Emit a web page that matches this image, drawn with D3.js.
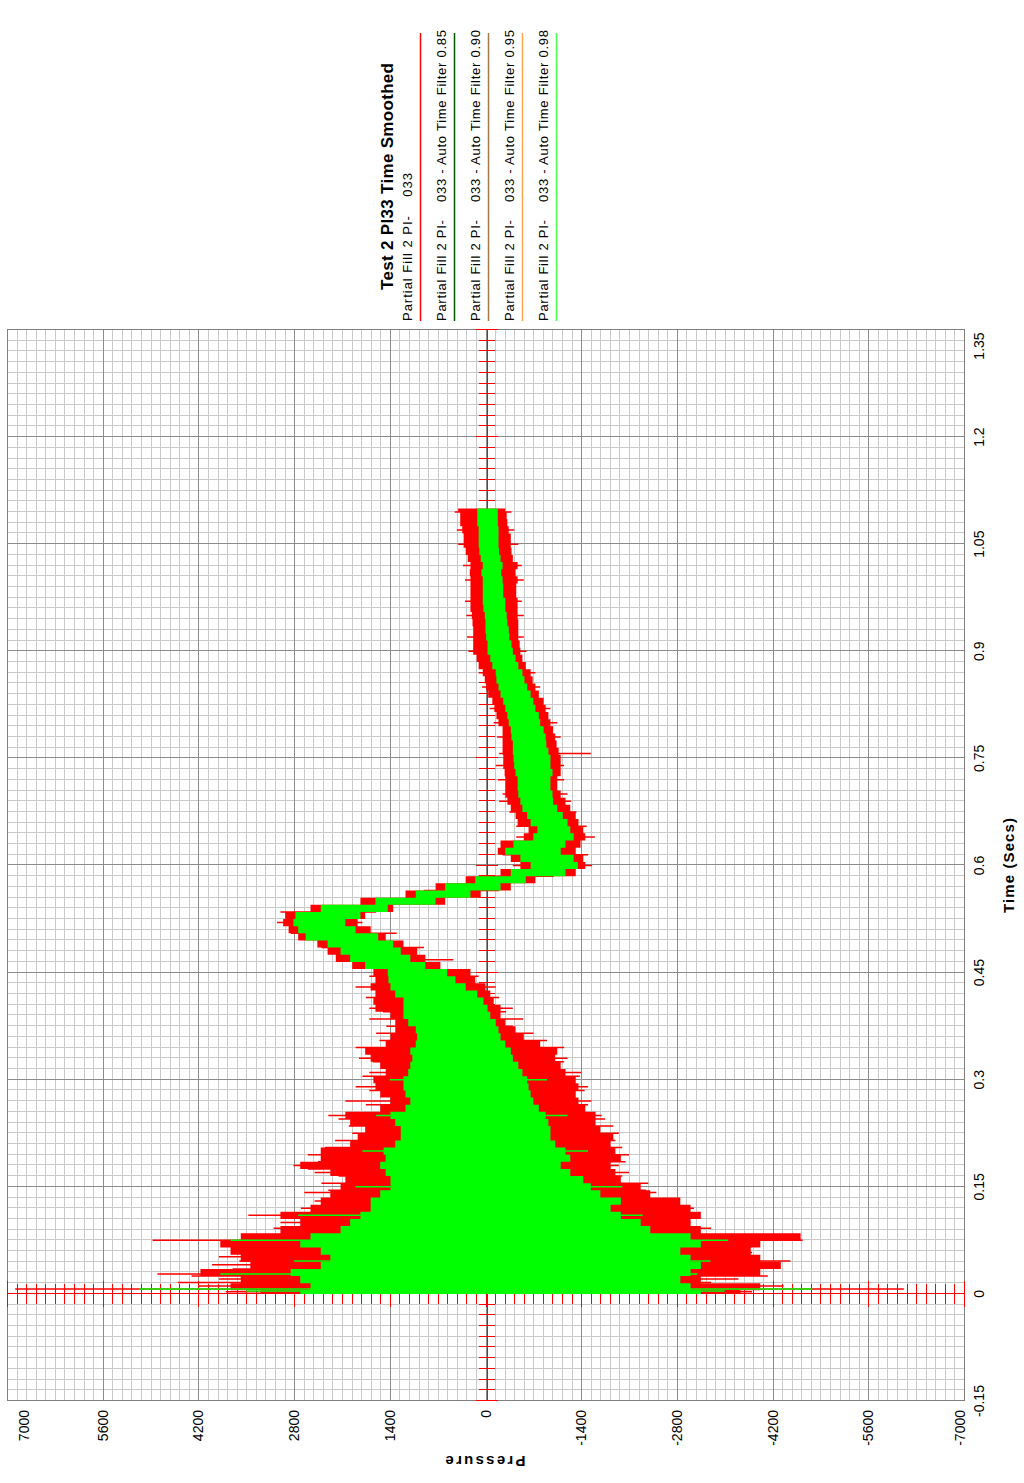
<!DOCTYPE html>
<html>
<head>
<meta charset="utf-8">
<script src="https://cdn.jsdelivr.net/npm/d3@7"></script>
<style>
  body { margin: 0; background: #fff; }
  svg { display: block; }
  text { font-family: "Liberation Sans", Arial, sans-serif; fill: #000; }
</style>
</head>
<body>
<div id="chart"></div>
<script>
// sample times (s)
const time = [0.00,0.01,0.02,0.03,0.04,0.05,0.06,0.07,0.08,0.09,
  0.10,0.11,0.12,0.13,0.14,0.15,0.16,0.17,0.18,0.19,
  0.20,0.21,0.22,0.23,0.24,0.25,0.26,0.27,0.28,0.29,
  0.30,0.31,0.32,0.33,0.34,0.35,0.36,0.37,0.38,0.39,
  0.40,0.41,0.42,0.43,0.44,0.45,0.46,0.47,0.48,0.49,
  0.50,0.51,0.52,0.53,0.54,0.55,0.56,0.57,0.58,0.59,
  0.60,0.61,0.62,0.63,0.64,0.65,0.66,0.67,0.68,0.69,
  0.70,0.71,0.72,0.73,0.74,0.75,0.76,0.77,0.78,0.79,
  0.80,0.81,0.82,0.83,0.84,0.85,0.86,0.87,0.88,0.89,
  0.90,0.91,0.92,0.93,0.94,0.95,0.96,0.97,0.98,0.99,
  1.00,1.01,1.02,1.03,1.04,1.05,1.06,1.07,1.08,1.09,1.10];

// raw signal (red) envelope, upper / lower pressure
const redHi = [3290,3730,3580,4170,3440,3580,3730,3880,3580,3000,
  2710,3000,2560,2410,2270,2120,2050,2270,2710,2410,
  2410,1980,1870,1760,1980,2050,1540,1390,1540,1610,
  1640,1460,1540,1680,1760,1460,1390,1320,1320,1390,
  1610,1640,1610,1680,1610,1640,1950,2190,2310,2460,
  2740,2880,2960,2930,2560,1830,1170,730,290,-220,
  -510,-370,-180,-220,-560,-630,-470,-440,-370,-320,
  -290,-290,-290,-280,-260,-260,-250,-250,-250,-250,
  -190,-160,-130,-100,-40,-10,10,40,100,130,
  180,180,180,180,190,200,220,220,220,220,
  220,230,220,260,290,320,320,340,370,370,400];
const redLo = [-3730,-4020,-3150,-4020,-4320,-4020,-3880,-4020,-4610,-3150,
  -3000,-3150,-3000,-2850,-2410,-2270,-1980,-1900,-1830,-1980,
  -1900,-1830,-1870,-1680,-1610,-1610,-1460,-1360,-1320,-1360,
  -1320,-1170,-1100,-1020,-1050,-800,-560,-440,-290,-220,
  -220,-120,-70,0,150,220,660,880,1000,1200,
  1460,1680,1870,1760,1350,590,70,-370,-730,-1320,
  -1460,-1430,-1320,-1390,-1460,-1430,-1360,-1320,-1240,-1170,
  -1100,-1050,-1050,-1100,-1100,-1100,-1070,-1040,-1020,-990,
  -950,-920,-880,-850,-780,-730,-690,-660,-590,-540,
  -510,-500,-480,-480,-480,-470,-470,-470,-450,-450,
  -470,-440,-470,-400,-380,-370,-370,-340,-320,-310,-290];

// filtered signal (green) envelope
const greenHi = [2710,2560,2710,2850,2410,2270,2410,2710,2560,2120,
  1980,1830,1680,1680,1540,1390,1390,1460,1540,1460,
  1490,1320,1240,1240,1320,1390,1170,1100,1170,1200,
  1200,1130,1100,1070,1100,1020,1000,1020,1130,1200,
  1200,1200,1320,1390,1420,1430,1760,1980,2120,2310,
  2630,2740,2810,2780,2410,1610,1020,590,150,-370,
  -660,-510,-290,-410,-700,-760,-660,-610,-540,-510,
  -480,-470,-470,-440,-420,-410,-400,-400,-380,-370,
  -340,-320,-290,-260,-220,-190,-160,-150,-100,-70,
  -30,-30,-10,0,0,10,30,40,40,40,
  40,60,40,70,90,100,100,100,120,120,120];
const greenLo = [-3150,-3000,-2850,-3000,-3150,-3000,-2850,-3150,-3000,-2410,
  -2270,-1980,-1830,-1980,-1680,-1540,-1430,-1240,-1100,-1240,
  -1170,-1020,-950,-950,-920,-880,-780,-700,-660,-630,
  -610,-540,-480,-400,-370,-290,-220,-190,-150,-70,
  -30,30,120,290,440,560,880,1100,1240,1350,
  1570,1900,2050,1830,1430,730,220,-220,-590,-1170,
  -1350,-1290,-1100,-1170,-1290,-1240,-1200,-1130,-1050,-990,
  -980,-950,-950,-980,-950,-950,-920,-890,-880,-850,
  -800,-780,-730,-700,-660,-610,-570,-540,-480,-440,
  -400,-380,-350,-340,-320,-310,-290,-290,-260,-260,
  -250,-230,-250,-220,-200,-190,-190,-190,-180,-180,-180];

// single excursions standing out of the envelopes
const redSpikeT = [0.003,0.007,0.011,0.016,0.021,0.025,0.028,0.035,0.041,0.046,
  0.052,0.058,0.064,0.070,0.075,0.083,0.092,0.100,0.110,0.120,
  0.130,0.142,0.155,0.170,0.180,0.195,0.215,0.235,0.250,0.270,
  0.290,0.310,0.330,0.345,0.365,0.385,0.400,0.430,0.468,0.520,
  0.600,0.640,0.700,0.757,0.800,0.850,0.900,0.950,1.000,1.050,1.095,
  0.145,0.165,0.175,0.185,0.205,0.225,0.245,0.265,0.285,0.305,
  0.325,0.355,0.375,0.395,0.415,0.445,0.485,0.505,0.535,0.565,
  0.585,0.615,0.655,0.675,0.690,0.720,0.740,0.780,0.820,0.870,
  0.920,0.970,1.020,1.070];
const redSpikeHi = [3800,6880,4200,4500,3900,4300,4800,3700,4000,3600,
  3900,3300,3700,3800,4870,3300,3100,3000,3470,2700,
  2500,2650,2400,2500,2810,2600,2200,2000,2300,2050,
  1900,1700,1850,1900,1600,1700,1700,1900,2100,3050,
  -400,-450,-250,-200,-120,50,250,280,300,400,450,
  2300,2150,2600,2450,2350,1950,2150,1750,1700,1800,
  1650,1550,1450,1500,1750,1700,2400,2850,3000,900,
  100,-250,-450,-350,-200,-180,-150,-170,-60,100,
  270,300,330,420];
const redSpikeLo = [-3900,-6120,-4360,-3300,-3700,-4130,-3600,-3800,-3500,-4460,
  -3600,-3900,-3400,-3300,-4640,-3500,-3300,-3000,-2900,-3050,
  -2780,-2500,-2380,-2100,-1950,-2100,-1900,-1870,-1700,-1550,
  -1500,-1400,-1200,-1150,-700,-550,-400,-150,470,1800,
  -1560,-1600,-1200,-1540,-1050,-800,-600,-560,-560,-480,-380,
  -2350,-2000,-1800,-2050,-2000,-1950,-1750,-1500,-1450,-1380,
  -1150,-900,-400,-300,-200,100,900,1300,1600,-200,
  -1000,-1500,-1480,-1330,-1250,-1150,-1150,-1100,-950,-730,
  -560,-530,-530,-420];
const greenSpikeT = [0.004,0.007,0.028,0.046,0.075,0.110,0.150,0.200,0.250,0.300];
const greenSpikeHi = [3500,5070,3880,2800,3730,2740,1900,1800,1600,1400];
const greenSpikeLo = [-3500,-4780,-3100,-3290,-3550,-2300,-2000,-1500,-1200,-900];

const timeTicks = [-0.15,0,0.15,0.3,0.45,0.6,0.75,0.9,1.05,1.2,1.35];
const timeLabels = ["-0.15","0","0.15","0.3","0.45","0.6","0.75","0.9","1.05","1.2","1.35"];
const pressureTicks = [7000,5600,4200,2800,1400,0,-1400,-2800,-4200,-5600,-7000];
const pressureLabels = ["7000","5600","4200","2800","1400","0","-1400","-2800","-4200","-5600","-7000"];

const chartTitle = "Test 2 PI33 Time Smoothed";
const seriesNames = [
  "Partial Fill 2 PI-    033",
  "Partial Fill 2 PI-    033 - Auto Time Filter 0.85",
  "Partial Fill 2 PI-    033 - Auto Time Filter 0.90",
  "Partial Fill 2 PI-    033 - Auto Time Filter 0.95",
  "Partial Fill 2 PI-    033 - Auto Time Filter 0.98"
];
const seriesColors = ["#ff0000", "#005800", "#a47848", "#ffa64d", "#4cff4c"];

const W = 1024, H = 1483;
const svg = d3.select('#chart').append('svg')
  .attr('width', W)
  .attr('height', H);
svg.append('rect').attr('width', W).attr('height', H).attr('fill', '#fff');

// whole chart is drawn upright then turned a quarter turn anticlockwise
const g = svg.append('g').attr('transform', `translate(0,${H}) rotate(-90)`);

const plot = { left: 82, right: 1153, top: 7, bottom: 964 };
const x = d3.scaleLinear().domain([-0.15, 1.35]).range([plot.left, plot.right]);
const y = d3.scaleLinear().domain([7000, -7000]).range([plot.top, plot.bottom]);
const px = v => Math.round(v) + 0.5;

// grid
const minorT = d3.range(101).map(i => -0.15 + i * 0.015);
const minorP = d3.range(101).map(i => 7000 - i * 140);

const grid = g.append('g');
grid.selectAll('.vmin').data(minorT).join('line')
  .attr('x1', d => px(x(d))).attr('x2', d => px(x(d)))
  .attr('y1', plot.top).attr('y2', plot.bottom)
  .attr('stroke', '#c9c9c9');
grid.selectAll('.hmin').data(minorP).join('line')
  .attr('y1', d => px(y(d))).attr('y2', d => px(y(d)))
  .attr('x1', plot.left).attr('x2', plot.right)
  .attr('stroke', '#c9c9c9');
grid.selectAll('.vmaj').data(timeTicks).join('line')
  .attr('x1', d => px(x(d))).attr('x2', d => px(x(d)))
  .attr('y1', plot.top).attr('y2', plot.bottom)
  .attr('stroke', '#8c8c8c');
grid.selectAll('.hmaj').data(pressureTicks).join('line')
  .attr('y1', d => px(y(d))).attr('y2', d => px(y(d)))
  .attr('x1', plot.left).attr('x2', plot.right)
  .attr('stroke', '#8c8c8c');

g.append('rect')
  .attr('x', px(plot.left)).attr('y', px(plot.top))
  .attr('width', Math.round(plot.right - plot.left))
  .attr('height', Math.round(plot.bottom - plot.top))
  .attr('fill', 'none').attr('stroke', '#808080');

// red zero axes with crossing ticks
function redAxis(axisA, axisB, values, size, pos) {
  const a = g.append('g').attr('transform', pos).attr('color', '#ff0000')
    .attr('shape-rendering', 'crispEdges');
  a.call(axisA.tickValues(values).tickSize(size).tickSizeOuter(0).tickFormat(''));
  const b = g.append('g').attr('transform', pos).attr('color', '#ff0000')
    .attr('shape-rendering', 'crispEdges');
  b.call(axisB.tickValues(values).tickSize(size).tickSizeOuter(0).tickFormat(''));
}
redAxis(d3.axisBottom(x), d3.axisTop(x), minorT, 8, `translate(0,${px(y(0))})`);
redAxis(d3.axisBottom(x), d3.axisTop(x), timeTicks, 11, `translate(0,${px(y(0))})`);
redAxis(d3.axisLeft(y), d3.axisRight(y), minorP, 10, `translate(${px(x(0))},0)`);
redAxis(d3.axisLeft(y), d3.axisRight(y), pressureTicks, 13, `translate(${px(x(0))},0)`);

// data
const redRows = time.map((t, i) => ({ t, hi: redHi[i], lo: redLo[i] }));
const greenRows = time.map((t, i) => ({ t, hi: greenHi[i], lo: greenLo[i] }));
const band = d3.area()
  .curve(d3.curveStep)
  .x(d => x(d.t))
  .y0(d => y(d.lo))
  .y1(d => y(d.hi));

g.append('path').datum(redRows).attr('d', band).attr('fill', '#ff0000');
g.append('g').selectAll('line')
  .data(redSpikeT.map((t, i) => ({ t, hi: redSpikeHi[i], lo: redSpikeLo[i] })))
  .join('line')
  .attr('x1', d => x(d.t)).attr('x2', d => x(d.t))
  .attr('y1', d => y(d.hi)).attr('y2', d => y(d.lo))
  .attr('stroke', '#ff0000').attr('stroke-width', 1.5);

g.append('path').datum(greenRows).attr('d', band).attr('fill', '#00ff00');
g.append('g').selectAll('line')
  .data(greenSpikeT.map((t, i) => ({ t, hi: greenSpikeHi[i], lo: greenSpikeLo[i] })))
  .join('line')
  .attr('x1', d => x(d.t)).attr('x2', d => x(d.t))
  .attr('y1', d => y(d.hi)).attr('y2', d => y(d.lo))
  .attr('stroke', '#00ff00').attr('stroke-width', 1.5);

// tick labels
g.append('g').selectAll('text').data(pressureTicks).join('text')
  .attr('x', 73)
  .attr('y', d => Math.min(Math.max(y(d), 24), 960) + 5)
  .attr('text-anchor', 'end')
  .style('font-size', '14px')
  .text((d, i) => pressureLabels[i]);

g.append('g').selectAll('text').data(timeTicks).join('text')
  .attr('x', d => Math.min(x(d), 1137))
  .attr('y', 984)
  .attr('text-anchor', 'middle')
  .style('font-size', '14px')
  .text((d, i) => timeLabels[i]);

// axis titles
g.append('text')
  .attr('x', (plot.left + plot.right) / 2)
  .attr('y', 1014)
  .attr('text-anchor', 'middle')
  .attr('textLength', 95)
  .style('font-size', '15px')
  .style('font-weight', 'bold')
  .text('Time (Secs)');

g.append('text')
  .attr('transform', `translate(27,${(plot.top + plot.bottom) / 2}) rotate(-90)`)
  .attr('text-anchor', 'middle')
  .attr('textLength', 80)
  .style('font-size', '15px')
  .style('font-weight', 'bold')
  .text('Pressure');

// legend
const legend = g.append('g').attr('transform', 'translate(1162,0)');
legend.append('text')
  .attr('x', 31)
  .attr('y', 393)
  .attr('textLength', 227)
  .style('font-size', '17px')
  .style('font-weight', 'bold')
  .text(chartTitle);

seriesNames.forEach((name, i) => {
  const base = 412 + i * 34;
  legend.append('text')
    .attr('x', 0)
    .attr('y', base)
    .attr('textLength', i === 0 ? 148 : 291)
    .attr('lengthAdjust', 'spacing')
    .style('font-size', '13px')
    .style('white-space', 'pre')
    .text(name);
  legend.append('line')
    .attr('x1', 0).attr('x2', 288)
    .attr('y1', base + 8.5).attr('y2', base + 8.5)
    .attr('stroke', seriesColors[i])
    .attr('stroke-width', 1.5);
});
</script>
</body>
</html>
